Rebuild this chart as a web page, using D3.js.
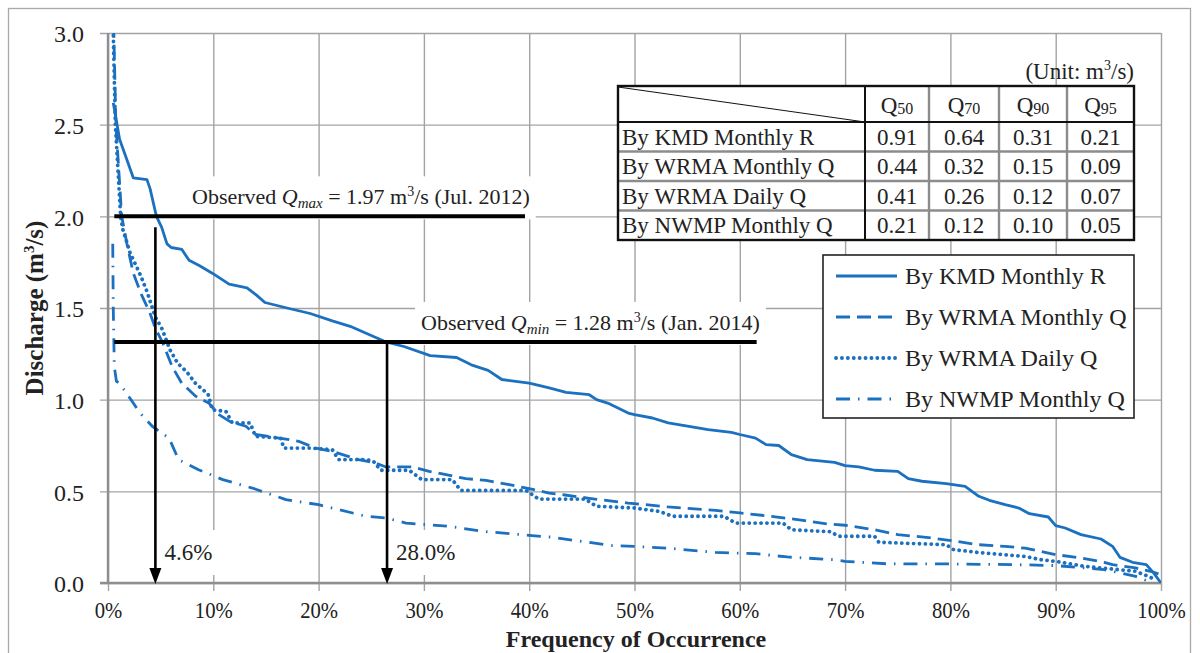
<!DOCTYPE html>
<html>
<head>
<meta charset="utf-8">
<script src="https://cdn.jsdelivr.net/npm/d3@7"></script>
<style>
  body { margin: 0; background: #fff; }
  text { font-family: "Liberation Serif", "Times New Roman", serif; fill: #222; }
</style>
</head>
<body>
<svg id="chart" width="1200" height="653"></svg>
<script>
// ---- data ----
const kmdFreq = [0.5, 1.1, 1.6, 2.4, 3.7, 4.0, 4.6, 5.1, 5.6, 6.0, 7.0, 7.7, 8.7, 9.9, 11.5, 13.2, 14.1, 14.9, 17, 19.2, 21.3, 23, 25, 26.4, 28.1, 30.6, 33.1, 34.5, 36.1, 37.4, 40, 41.9, 43.5, 45.7, 46.4, 47.6, 49.4, 50, 51.7, 53.2, 57, 59.2, 60, 61.5, 62.5, 63.7, 64.9, 66.4, 69, 70, 71.3, 72.8, 75, 76, 77.3, 79.6, 81.4, 82.7, 83.7, 85.2, 86.5, 87.5, 89.3, 90, 90.9, 92.4, 94.3, 95.4, 96.1, 97.3, 98.6, 99.3, 100];
const kmdQ = [2.62, 2.42, 2.34, 2.21, 2.20, 2.15, 2.0, 1.94, 1.85, 1.83, 1.82, 1.76, 1.73, 1.69, 1.63, 1.61, 1.57, 1.53, 1.50, 1.47, 1.43, 1.40, 1.35, 1.315, 1.29, 1.24, 1.23, 1.19, 1.16, 1.11, 1.09, 1.064, 1.04, 1.027, 1.0, 0.978, 0.927, 0.918, 0.9, 0.873, 0.836, 0.822, 0.81, 0.79, 0.755, 0.75, 0.70, 0.673, 0.658, 0.64, 0.633, 0.615, 0.609, 0.569, 0.555, 0.542, 0.527, 0.473, 0.451, 0.427, 0.409, 0.378, 0.36, 0.313, 0.3, 0.264, 0.24, 0.2, 0.14, 0.113, 0.1, 0.055, 0.0];

const wrmaMFreq = [0.45, 0.55, 0.75, 1.3, 1.8, 2.4, 3.2, 4.0, 4.5, 5.2, 6.1, 7.0, 8.3, 9.6, 10.5, 11.6, 13.1, 14, 16.9, 18.1, 19.7, 21.3, 23.8, 25.4, 26.4, 28.9, 30.5, 32.1, 34, 35.9, 38.1, 40, 41.9, 43.4, 45.7, 49.4, 50, 53.2, 57.7, 60, 63, 66, 68.3, 70, 72.8, 75, 77.7, 79.9, 82.6, 85.2, 87.1, 90, 92.4, 94.6, 95.4, 97.6, 99, 100];
const wrmaMQ = [3.05, 3.0, 2.5, 2.0, 1.85, 1.69, 1.57, 1.47, 1.39, 1.31, 1.18, 1.09, 1.02, 0.98, 0.92, 0.88, 0.855, 0.81, 0.785, 0.773, 0.736, 0.718, 0.673, 0.655, 0.633, 0.633, 0.609, 0.591, 0.569, 0.56, 0.536, 0.515, 0.49, 0.48, 0.462, 0.436, 0.433, 0.415, 0.396, 0.382, 0.364, 0.342, 0.322, 0.315, 0.29, 0.264, 0.249, 0.233, 0.209, 0.2, 0.19, 0.155, 0.136, 0.113, 0.1, 0.082, 0.064, 0.045];

const wrmaDFreq = [0.4, 0.5, 0.7, 1.2, 1.4, 2.1, 3.0, 3.7, 4.5, 5.1, 5.9, 6.6, 7.5, 8.3, 9.5, 9.9, 11.2, 11.8, 13.5, 14, 16.4, 16.7, 19.4, 21.3, 21.9, 24.5, 25.2, 25.9, 28.6, 29.8, 32.7, 33.5, 39.7, 40.9, 45.3, 46.4, 50, 52.4, 53.6, 58.5, 59.6, 64.1, 64.9, 68.6, 69.4, 72.8, 73.2, 79.6, 80.3, 82.6, 87.1, 88.6, 90, 92.7, 95.4, 97.6, 98.8, 99.5];
const wrmaDQ = [3.05, 3.0, 2.5, 2.0, 1.93, 1.8, 1.69, 1.59, 1.45, 1.39, 1.27, 1.2, 1.15, 1.09, 1.03, 0.945, 0.936, 0.873, 0.873, 0.8, 0.79, 0.736, 0.736, 0.727, 0.673, 0.673, 0.664, 0.615, 0.615, 0.564, 0.564, 0.505, 0.505, 0.458, 0.458, 0.418, 0.409, 0.39, 0.364, 0.364, 0.327, 0.327, 0.29, 0.28, 0.255, 0.255, 0.222, 0.209, 0.182, 0.167, 0.145, 0.127, 0.118, 0.091, 0.076, 0.064, 0.036, 0.018];

const nwmpFreq = [0.45, 0.5, 0.6, 0.8, 1.1, 2.3, 3.0, 4.2, 5.8, 6.7, 8.6, 10.9, 13.7, 16.9, 20, 24.5, 26.4, 28.3, 32.4, 35.5, 40, 41.9, 45.7, 47.9, 50, 53.2, 57.7, 61.5, 64.5, 69, 70, 73.9, 79.6, 86.3, 90, 94.6, 95.4, 97.6, 98.8];
const nwmpQ = [1.85, 1.5, 1.18, 1.1, 1.09, 0.99, 0.93, 0.855, 0.79, 0.673, 0.618, 0.564, 0.518, 0.455, 0.427, 0.364, 0.355, 0.327, 0.309, 0.282, 0.26, 0.251, 0.222, 0.204, 0.2, 0.19, 0.167, 0.16, 0.142, 0.127, 0.118, 0.105, 0.104, 0.1, 0.095, 0.073, 0.064, 0.036, 0.01];

const seriesNames = ["By KMD Monthly R", "By WRMA Monthly Q", "By WRMA Daily Q", "By NWMP Monthly Q"];
const xTicks = [0, 10, 20, 30, 40, 50, 60, 70, 80, 90, 100];
const yTicks = [0, 0.5, 1.0, 1.5, 2.0, 2.5, 3.0];

const qLevels = ["50", "70", "90", "95"];
const tableQ = [
    [0.91, 0.64, 0.31, 0.21],
    [0.44, 0.32, 0.15, 0.09],
    [0.41, 0.26, 0.12, 0.07],
    [0.21, 0.12, 0.10, 0.05]
];

// observed levels (as drawn) and the exceedance arrows
const obsLevel = [2.0, 1.315];
const obsLineEnd = [39.6, 61.6];
const arrowFreq = [4.5, 26.5];
const arrowTop = [1.94, 1.315];
const arrowLabels = ["4.6%", "28.0%"];

// ---- drawing ----
const svg = d3.select("#chart");
const blue = "#1b70bf";

const x = d3.scaleLinear().domain([0, 100]).range([108, 1161]);
const y = d3.scaleLinear().domain([0, 3]).range([583, 33]);
const plotW = x(100) - x(0), plotH = y(0) - y(3);

// outer frame
svg.append("rect").attr("x", 8.5).attr("y", 8.5).attr("width", 1182).attr("height", 700)
    .attr("fill", "none").attr("stroke", "#a8a8a8").attr("stroke-width", 1.3);

// gridlines with tick stubs
const gridY = svg.append("g").attr("transform", `translate(${x(0) - 8},0)`)
    .call(d3.axisLeft(y).tickValues(yTicks).tickSize(-(plotW + 8)).tickFormat(""));
const gridX = svg.append("g").attr("transform", `translate(0,${y(0) + 8})`)
    .call(d3.axisBottom(x).tickValues(xTicks).tickSize(-(plotH + 8)).tickFormat(""));
[gridX, gridY].forEach(g => {
    g.select(".domain").remove();
    g.selectAll("line").attr("stroke", "#a3a3a3").attr("stroke-width", 1.4);
});

// axis lines
svg.append("line").attr("x1", x(0)).attr("x2", x(0)).attr("y1", y(3)).attr("y2", y(0))
    .attr("stroke", "#8e8e8e").attr("stroke-width", 2.4);
svg.append("line").attr("x1", x(0) - 8).attr("x2", x(100)).attr("y1", y(0)).attr("y2", y(0))
    .attr("stroke", "#8e8e8e").attr("stroke-width", 2.6);

// tick labels
const yLab = svg.append("g").attr("transform", `translate(${x(0)},1)`)
    .call(d3.axisLeft(y).tickValues(yTicks).tickSize(0).tickPadding(24).tickFormat(d3.format(".1f")));
const xLab = svg.append("g").attr("transform", `translate(0,${y(0)})`)
    .call(d3.axisBottom(x).tickValues(xTicks).tickSize(0).tickPadding(19).tickFormat(d => d + "%"));
[xLab, yLab].forEach(g => {
    g.select(".domain").remove();
    g.selectAll("text").attr("font-family", "Liberation Serif").attr("fill", "#222");
});
yLab.selectAll("text").attr("font-size", 24);
xLab.selectAll("text").attr("font-size", 23).attr("transform", "scale(0.9,1)");

// axis titles
const yTitle = svg.append("text").attr("transform", "translate(43,308) rotate(-90)")
    .attr("text-anchor", "middle").attr("font-size", 25).attr("font-weight", "bold");
yTitle.append("tspan").text("Discharge (m");
yTitle.append("tspan").attr("font-size", 15).attr("dy", -9).text("3");
yTitle.append("tspan").attr("dy", 9).text("/s)");

svg.append("text").attr("x", 636).attr("y", 647).attr("text-anchor", "middle")
    .attr("font-size", 24).attr("font-weight", "bold").text("Frequency of Occurrence");

// layers
const boxLayer = svg.append("g");
const curveLayer = svg.append("g");
const topLayer = svg.append("g");

svg.append("clipPath").attr("id", "plotClip").append("rect")
    .attr("x", x(0)).attr("y", y(3)).attr("width", plotW).attr("height", plotH);

const line = d3.line().x(d => x(d[0])).y(d => y(d[1]));
const seriesData = [
    d3.zip(kmdFreq, kmdQ),
    d3.zip(wrmaMFreq, wrmaMQ),
    d3.zip(wrmaDFreq, wrmaDQ),
    d3.zip(nwmpFreq, nwmpQ)
];
const styles = [
    { dash: null, cap: "butt", w: 2.8 },
    { dash: "14,7", cap: "butt", w: 2.8 },
    { dash: "0.1,5.8", cap: "round", w: 3.8 },
    { dash: "14,8,1.5,8", cap: "butt", w: 2.8 }
];

curveLayer.attr("clip-path", "url(#plotClip)")
    .selectAll("path").data(seriesData).join("path")
    .attr("d", line)
    .attr("fill", "none")
    .attr("stroke", blue)
    .attr("stroke-width", (d, i) => styles[i].w)
    .attr("stroke-dasharray", (d, i) => styles[i].dash)
    .attr("stroke-linecap", (d, i) => styles[i].cap)
    .attr("stroke-linejoin", "round");

// helper: white box behind a text element
function boxBehind(t, px, py) {
    const b = t.node().getBBox();
    boxLayer.append("rect").attr("x", b.x - px).attr("y", b.y - py)
        .attr("width", b.width + 2 * px).attr("height", b.height + 2 * py).attr("fill", "#fff");
}

// observed level lines + labels
const obsText = [
    { x0: 192, sub: "max", val: "1.97", when: "(Jul. 2012)" },
    { x0: 421, sub: "min", val: "1.28", when: "(Jan. 2014)" }
];
obsLevel.forEach((lv, i) => {
    topLayer.append("line").attr("x1", x(0.6)).attr("x2", x(obsLineEnd[i]))
        .attr("y1", y(lv)).attr("y2", y(lv)).attr("stroke", "#000").attr("stroke-width", 4);
    const t = topLayer.append("text").attr("x", obsText[i].x0).attr("y", y(lv) - 12).attr("font-size", 22);
    t.append("tspan").text("Observed ");
    t.append("tspan").attr("font-style", "italic").text("Q");
    t.append("tspan").attr("font-style", "italic").attr("font-size", 15).attr("dy", 4).text(obsText[i].sub);
    t.append("tspan").attr("dy", -4).text(" = " + obsText[i].val + " m");
    t.append("tspan").attr("font-size", 14).attr("dy", -8).text("3");
    t.append("tspan").attr("dy", 8).text("/s " + obsText[i].when);
    boxBehind(t, 6, 8);
});

// arrows
arrowFreq.forEach((f, i) => {
    const ax = x(f);
    topLayer.append("line").attr("x1", ax).attr("x2", ax).attr("y1", y(arrowTop[i])).attr("y2", y(0) - 12)
        .attr("stroke", "#000").attr("stroke-width", 2.6);
    topLayer.append("path")
        .attr("d", `M${ax - 6},${y(0) - 15}L${ax + 6},${y(0) - 15}L${ax},${y(0) + 1}Z`)
        .attr("fill", "#000");
    const t = topLayer.append("text").attr("x", ax + 9).attr("y", 560).attr("font-size", 23).text(arrowLabels[i]);
    boxBehind(t, 6, 10);
});

// unit label
const unit = topLayer.append("text").attr("x", 1134).attr("y", 79).attr("text-anchor", "end").attr("font-size", 23);
unit.append("tspan").text("(Unit: m");
unit.append("tspan").attr("font-size", 14).attr("dy", -9).text("3");
unit.append("tspan").attr("dy", 9).text("/s)");

// table
const tfs = 23;
const colEdges = [618, 865, 929, 999, 1067, 1134];
const rowEdges = [86, 122, 151.5, 181, 210.5, 240];
const table = topLayer.append("g");
table.append("rect").attr("x", colEdges[0]).attr("y", rowEdges[0])
    .attr("width", colEdges[5] - colEdges[0]).attr("height", rowEdges[5] - rowEdges[0]).attr("fill", "#fff");
// grey row separators
rowEdges.slice(2, 5).forEach(r => {
    table.append("line").attr("x1", colEdges[0]).attr("x2", colEdges[5]).attr("y1", r).attr("y2", r)
        .attr("stroke", "#8c8c8c").attr("stroke-width", 2.6);
});
// grey column separators
colEdges.slice(2, 5).forEach(c => {
    table.append("line").attr("x1", c).attr("x2", c).attr("y1", rowEdges[0]).attr("y2", rowEdges[5])
        .attr("stroke", "#8c8c8c").attr("stroke-width", 2.4);
});
// black lines
table.append("line").attr("x1", colEdges[0]).attr("x2", colEdges[5]).attr("y1", rowEdges[1]).attr("y2", rowEdges[1])
    .attr("stroke", "#111").attr("stroke-width", 2);
table.append("line").attr("x1", colEdges[1]).attr("x2", colEdges[1]).attr("y1", rowEdges[0]).attr("y2", rowEdges[5])
    .attr("stroke", "#111").attr("stroke-width", 2);
table.append("line").attr("x1", colEdges[0]).attr("x2", colEdges[1]).attr("y1", rowEdges[0] + 1).attr("y2", rowEdges[1])
    .attr("stroke", "#111").attr("stroke-width", 1);
table.append("rect").attr("x", colEdges[0]).attr("y", rowEdges[0])
    .attr("width", colEdges[5] - colEdges[0]).attr("height", rowEdges[5] - rowEdges[0])
    .attr("fill", "none").attr("stroke", "#111").attr("stroke-width", 2.4);

qLevels.forEach((q, j) => {
    const t = table.append("text").attr("x", (colEdges[j + 1] + colEdges[j + 2]) / 2)
        .attr("y", (rowEdges[0] + rowEdges[1]) / 2 + 9).attr("text-anchor", "middle").attr("font-size", tfs);
    t.append("tspan").text("Q");
    t.append("tspan").attr("font-size", 16).attr("dy", 1).text(q);
});
seriesNames.forEach((name, i) => {
    const cy = (rowEdges[i + 1] + rowEdges[i + 2]) / 2 + 8;
    table.append("text").attr("x", colEdges[0] + 4).attr("y", cy).attr("font-size", tfs).text(name);
    tableQ[i].forEach((v, j) => {
        table.append("text").attr("x", (colEdges[j + 1] + colEdges[j + 2]) / 2).attr("y", cy)
            .attr("text-anchor", "middle").attr("font-size", tfs).text(d3.format(".2f")(v));
    });
});

// legend
const legend = topLayer.append("g");
legend.append("rect").attr("x", 823).attr("y", 255).attr("width", 311).attr("height", 163)
    .attr("fill", "#fff").attr("stroke", "#222").attr("stroke-width", 1.6);
const legendY = [276, 317, 358, 399];
seriesNames.forEach((name, i) => {
    legend.append("line").attr("x1", 836).attr("x2", 897).attr("y1", legendY[i]).attr("y2", legendY[i])
        .attr("stroke", blue).attr("stroke-width", styles[i].w)
        .attr("stroke-dasharray", styles[i].dash).attr("stroke-linecap", styles[i].cap);
    legend.append("text").attr("x", 905).attr("y", legendY[i] + 8).attr("font-size", 24).text(name);
});
</script>
</body>
</html>
